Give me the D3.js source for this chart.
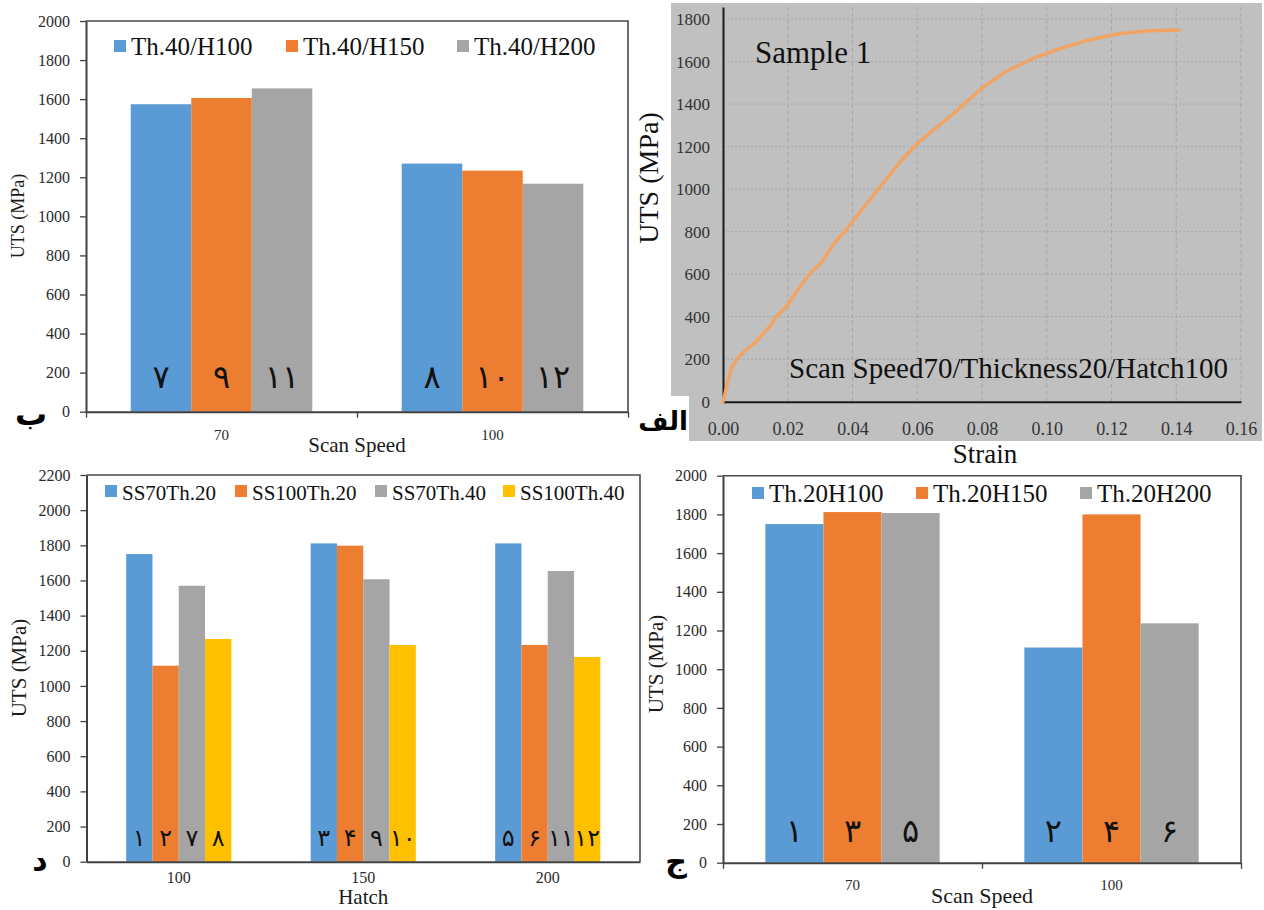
<!DOCTYPE html>
<html>
<head>
<meta charset="utf-8">
<script src="https://cdn.jsdelivr.net/npm/d3@7"></script>
<style>
  body { margin: 0; background: #fff; }
  svg { display: block; font-family: "Liberation Serif", "Times New Roman", serif; }
</style>
</head>
<body>
<svg id="chart" width="1264" height="910"></svg>
<script>
// ---- data ----
// panel ب : thickness 40, by scan speed
const speedCats = ["70", "100"];
const th40Series = ["Th.40/H100", "Th.40/H150", "Th.40/H200"];
const th40Values = [[1574, 1270], [1606, 1234], [1655, 1167]];
const th40Tags = [["۷", "۸"], ["۹", "۱۰"], ["۱۱", "۱۲"]];

// panel ج : thickness 20, by scan speed
const th20Series = ["Th.20H100", "Th.20H150", "Th.20H200"];
const th20Values = [[1750, 1112], [1812, 1800], [1807, 1237]];
const th20Tags = [["۱", "۲"], ["۳", "۴"], ["۵", "۶"]];

// panel د : by hatch
const hatchCats = ["100", "150", "200"];
const hatchSeries = ["SS70Th.20", "SS100Th.20", "SS70Th.40", "SS100Th.40"];
const hatchValues = [[1750, 1811, 1811], [1115, 1798, 1233], [1570, 1607, 1654], [1267, 1233, 1165]];
const hatchTags = [["۱", "۳", "۵"], ["۲", "۴", "۶"], ["۷", "۹", "۱۱"], ["۸", "۱۰", "۱۲"]];

// panel الف : stress-strain curve of sample 1
const strain = [0, 0.0024, 0.0041, 0.0065, 0.0108, 0.0133, 0.0145, 0.0164, 0.0195, 0.0213, 0.0238,
                0.0269, 0.0306, 0.0343, 0.038, 0.0478, 0.0552, 0.0601, 0.0675, 0.0725, 0.0799,
                0.0873, 0.0959, 0.1045, 0.1131, 0.1218, 0.1304, 0.1409];
const stress = [0, 150, 196, 235, 290, 337, 353, 400, 447, 486, 541,
                604, 659, 745, 808, 997, 1137, 1216, 1310, 1373, 1475,
                1553, 1616, 1663, 1702, 1730, 1744, 1749];

const ticks2000 = [0, 200, 400, 600, 800, 1000, 1200, 1400, 1600, 1800, 2000];
const ticks2200 = [0, 200, 400, 600, 800, 1000, 1200, 1400, 1600, 1800, 2000, 2200];
const ticks1800 = [0, 200, 400, 600, 800, 1000, 1200, 1400, 1600, 1800];
const strainTicks = [0, 0.02, 0.04, 0.06, 0.08, 0.10, 0.12, 0.14, 0.16];

const colors = ["#5b9bd5", "#ed7d31", "#a5a5a5", "#ffc000"];
const serif = "'Liberation Serif', 'Times New Roman', serif";
const arab = "'DejaVu Sans', sans-serif";

const svg = d3.select("#chart");

function barPanel(c) {
  const g = svg.append("g");
  const x0 = d3.scaleBand().domain(c.cats).range([c.left, c.right])
    .paddingInner(c.pad).paddingOuter(c.pad / 2);
  const x1 = d3.scaleBand().domain(d3.range(c.series.length)).range([0, x0.bandwidth()]);
  const y = d3.scaleLinear().domain([0, c.yMax]).range([c.bottom, c.top]);

  // frame (top + right)
  g.append("path")
    .attr("d", `M${c.left},${c.top}H${c.right}V${c.bottom}`)
    .attr("fill", "none").attr("stroke", "#4a4a4a").attr("stroke-width", 1.6);

  // bars + persian number tags
  c.series.forEach((s, i) => {
    g.append("g").selectAll("rect").data(c.values[i]).join("rect")
      .attr("x", (d, j) => x0(c.cats[j]) + x1(i))
      .attr("y", d => y(d))
      .attr("width", x1.bandwidth())
      .attr("height", d => y(0) - y(d))
      .attr("fill", colors[i]);
    g.append("g").selectAll("text").data(c.tags[i]).join("text")
      .attr("x", (d, j) => x0(c.cats[j]) + x1(i) + x1.bandwidth() / 2)
      .attr("y", y(0) - c.tagLift)
      .attr("text-anchor", "middle")
      .style("font-family", arab)
      .attr("font-size", c.tagSize)
      .attr("fill", "#111")
      .text(d => d);
  });

  // y axis
  const ya = g.append("g").attr("transform", `translate(${c.left},0)`)
    .call(d3.axisLeft(y).tickValues(c.yTicks).tickFormat(d3.format("d"))
      .tickSize(6).tickSizeOuter(0).tickPadding(10));
  ya.attr("font-family", null);
  ya.select(".domain").attr("stroke", "#404040").attr("stroke-width", 2);
  ya.selectAll(".tick line").attr("stroke", "#404040").attr("stroke-width", 1.3);
  ya.selectAll("text").style("font-family", serif).attr("font-size", 16).attr("fill", "#2a2a2a");

  // x axis
  const xa = g.append("g").attr("transform", `translate(0,${c.bottom})`)
    .call(d3.axisBottom(x0).tickSize(0).tickSizeOuter(0));
  xa.attr("font-family", null);
  xa.select(".domain").attr("stroke", "#404040").attr("stroke-width", 2);
  xa.selectAll("text").style("font-family", serif).attr("font-size", c.catSize)
    .attr("fill", "#2a2a2a").attr("dy", null).attr("y", c.catY);

  if (c.sepTicks) {
    const sep = d3.scaleLinear().domain([0, c.cats.length]).range([c.left, c.right]);
    const sa = g.append("g").attr("transform", `translate(0,${c.bottom})`)
      .call(d3.axisBottom(sep).ticks(c.cats.length).tickFormat("").tickSize(6).tickSizeOuter(0));
    sa.select(".domain").remove();
    sa.selectAll(".tick line").attr("stroke", "#404040").attr("stroke-width", 1.3);
  }

  // axis titles
  g.append("text")
    .attr("x", (c.left + c.right) / 2).attr("y", c.titleY)
    .attr("text-anchor", "middle").style("font-family", serif)
    .attr("font-size", c.titleSize).attr("fill", "#1a1a1a")
    .text(c.title);
  g.append("text")
    .attr("transform", `translate(${c.yTitle[0]},${c.yTitle[1]}) rotate(-90)`)
    .attr("text-anchor", "middle").style("font-family", serif)
    .attr("font-size", c.yTitle[2]).attr("fill", "#1a1a1a")
    .text("UTS (MPa)");

  // legend
  const lg = g.append("g").selectAll("g").data(c.series).join("g");
  lg.append("rect")
    .attr("x", (d, i) => c.legend.xs[i]).attr("y", c.legend.y - c.legend.sq - 3)
    .attr("width", c.legend.sq).attr("height", c.legend.sq)
    .attr("fill", (d, i) => colors[i]);
  lg.append("text")
    .attr("x", (d, i) => c.legend.xs[i] + c.legend.sq + 5).attr("y", c.legend.y)
    .style("font-family", serif).attr("font-size", c.legend.size).attr("fill", "#111")
    .text(d => d);

  // panel letter
  g.append("text")
    .attr("x", c.letter[1]).attr("y", c.letter[2])
    .attr("text-anchor", "middle").style("font-family", arab)
    .attr("font-weight", "bold").attr("font-size", c.letter[3]).attr("fill", "#000")
    .text(c.letter[0]);
}

// panel ب (top left)
barPanel({
  cats: speedCats, series: th40Series, values: th40Values, tags: th40Tags,
  left: 86, right: 628, top: 21, bottom: 411.7, pad: 0.33,
  yMax: 2000, yTicks: ticks2000, catSize: 15, catY: 28, sepTicks: true,
  title: "Scan Speed", titleY: 452, titleSize: 21, yTitle: [24, 216, 18],
  tagSize: 32, tagLift: 24,
  legend: { xs: [114, 286, 457], y: 55, size: 25, sq: 12 },
  letter: ["ب", 31, 425, 32]
});

// panel ج (bottom right)
barPanel({
  cats: speedCats, series: th20Series, values: th20Values, tags: th20Tags,
  left: 723, right: 1241, top: 475.7, bottom: 862.7, pad: 0.327,
  yMax: 2000, yTicks: ticks2000, catSize: 15, catY: 27, sepTicks: true,
  title: "Scan Speed", titleY: 903, titleSize: 22, yTitle: [663, 664, 21],
  tagSize: 32, tagLift: 21,
  legend: { xs: [752, 916, 1080], y: 502, size: 25, sq: 12 },
  letter: ["ج", 676, 872, 30]
});

// panel د (bottom left)
barPanel({
  cats: hatchCats, series: hatchSeries, values: hatchValues, tags: hatchTags,
  left: 86.5, right: 640, top: 475, bottom: 861.7, pad: 0.43,
  yMax: 2200, yTicks: ticks2200, catSize: 16, catY: 21, sepTicks: false,
  title: "Hatch", titleY: 904, titleSize: 21, yTitle: [26, 668, 21],
  tagSize: 24, tagLift: 16,
  legend: { xs: [105, 235, 375, 503], y: 500, size: 21, sq: 12 },
  letter: ["د", 40, 870, 30]
});

// panel الف (top right) : line chart
const gb = svg.append("g");
gb.append("rect").attr("x", 671).attr("y", 3).attr("width", 591).attr("height", 438).attr("fill", "#c0c0c0");
const xB = d3.scaleLinear().domain([0, 0.16]).range([723, 1241]);
const yB = d3.scaleLinear().domain([0, 1857]).range([401.7, 7]);

gb.append("g").selectAll("line").data(ticks1800.slice(1)).join("line")
  .attr("x1", xB(0)).attr("x2", xB(0.16))
  .attr("y1", d => yB(d)).attr("y2", d => yB(d))
  .attr("stroke", "#a6a6a6").attr("stroke-width", 1).attr("stroke-dasharray", "2,2");
gb.append("g").selectAll("line").data(strainTicks.slice(1)).join("line")
  .attr("x1", d => xB(d)).attr("x2", d => xB(d))
  .attr("y1", yB(0)).attr("y2", yB.range()[1])
  .attr("stroke", "#a6a6a6").attr("stroke-width", 1).attr("stroke-dasharray", "4,3");

const yaB = gb.append("g").attr("transform", `translate(${xB(0)},0)`)
  .call(d3.axisLeft(yB).tickValues(ticks1800).tickFormat(d3.format("d"))
    .tickSize(0).tickSizeOuter(0).tickPadding(13));
yaB.attr("font-family", null);
yaB.select(".domain").attr("stroke", "#1a1a1a").attr("stroke-width", 2);
yaB.selectAll("text").style("font-family", serif).attr("font-size", 17).attr("fill", "#333");

const xaB = gb.append("g").attr("transform", `translate(0,${yB(0)})`)
  .call(d3.axisBottom(xB).tickValues(strainTicks).tickFormat(d3.format(".2f")).tickSize(0).tickSizeOuter(0));
xaB.attr("font-family", null);
xaB.select(".domain").attr("stroke", "#1a1a1a").attr("stroke-width", 2);
xaB.selectAll("text").style("font-family", serif).attr("font-size", 18).attr("fill", "#333")
  .attr("dy", null).attr("y", 33);

gb.append("path")
  .datum(d3.range(strain.length))
  .attr("d", d3.line().x(i => xB(strain[i])).y(i => yB(stress[i])))
  .attr("fill", "none").attr("stroke", "#f2a464").attr("stroke-width", 3.5)
  .attr("stroke-linecap", "round").attr("stroke-linejoin", "round");

gb.append("text").attr("x", 755).attr("y", 63)
  .style("font-family", serif).attr("font-size", 31).attr("fill", "#111").text("Sample 1");
gb.append("text").attr("x", 789).attr("y", 378)
  .style("font-family", serif).attr("font-size", 29).attr("fill", "#111")
  .text("Scan Speed70/Thickness20/Hatch100");
gb.append("text").attr("x", 985).attr("y", 463).attr("text-anchor", "middle")
  .style("font-family", serif).attr("font-size", 27).attr("fill", "#111").text("Strain");
gb.append("text").attr("transform", "translate(658,178) rotate(-90)")
  .attr("text-anchor", "middle").style("font-family", serif).attr("font-size", 28)
  .attr("fill", "#111").text("UTS (MPa)");

gb.append("rect").attr("x", 640).attr("y", 396).attr("width", 49).attr("height", 45).attr("fill", "#fff");
gb.append("text").attr("x", 663).attr("y", 430).attr("text-anchor", "middle")
  .style("font-family", arab).attr("font-weight", "bold").attr("font-size", 26)
  .attr("fill", "#000").text("الف");
</script>
</body>
</html>
